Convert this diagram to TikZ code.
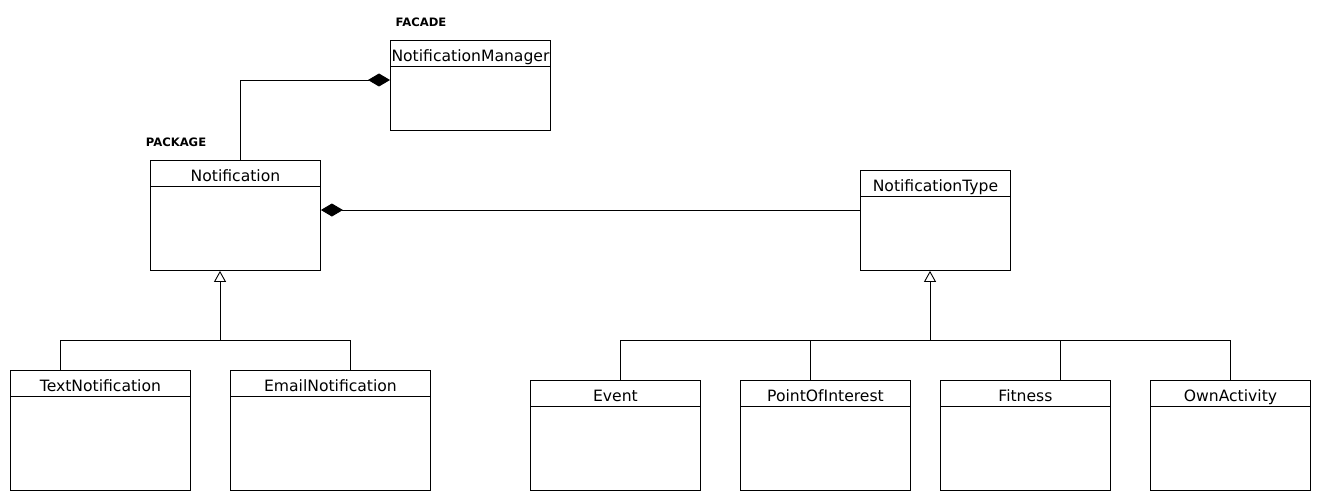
\documentclass[tikz,border=0pt]{standalone}
\usepackage{fontspec}
\setmainfont{DejaVu Sans}
\usetikzlibrary{arrows.meta,positioning}
\tikzset{
  classbox/.style={draw, line width=0.9pt, anchor=north west, inner sep=0pt},
  classtitle/.style={anchor=north, inner sep=0pt, minimum height=26pt,
    text height=17pt, text depth=1pt,
    font=\fontsize{15.6}{18}\selectfont},
  stereo/.style={font=\fontsize{11.6}{13}\selectfont\bfseries},
  compose/.style={line width=0.9pt, {Diamond[length=22pt,width=13pt]}-},
  inherit/.style={line width=0.9pt, -{Triangle[open,length=11pt,width=12pt]}},
  assoc/.style={line width=0.9pt}
}
\newcommand{\classhead}[2]{%
  \node[classtitle] (#1t) at (#1.north) {#2};
  \draw[assoc] (#1t.south -| #1.west) -- (#1t.south -| #1.east);}
\begin{document}
\begin{tikzpicture}[x=1pt,y=-1pt]
    \useasboundingbox (0,0) rectangle (1320,500);

    % labels
    \node[stereo] (facade) at (421,22) {FACADE};
    \node[stereo] (package) at (176,142) {PACKAGE};

    % classes
    \node[classbox, minimum width=160pt, minimum height=90pt] (mgr) at (390,40) {};
    \classhead{mgr}{NotificationManager}
    \node[classbox, minimum width=170pt, minimum height=110pt] (notif) at (150,160) {};
    \classhead{notif}{Notification}
    \node[classbox, minimum width=150pt, minimum height=100pt] (ntype) at (860,170) {};
    \classhead{ntype}{NotificationType}

    \node[classbox, minimum width=180pt, minimum height=120pt] (textn) at (10,370) {};
    \classhead{textn}{TextNotification}
    \node[classbox, minimum width=200pt, minimum height=120pt] (email) at (230,370) {};
    \classhead{email}{EmailNotification}

    \node[classbox, minimum width=170pt, minimum height=110pt] (event) at (530,380) {};
    \classhead{event}{Event}
    \node[classbox, minimum width=170pt, minimum height=110pt] (poi) at (740,380) {};
    \classhead{poi}{PointOfInterest}
    \node[classbox, minimum width=170pt, minimum height=110pt] (fit) at (940,380) {};
    \classhead{fit}{Fitness}
    \node[classbox, minimum width=160pt, minimum height=110pt] (own) at (1150,380) {};
    \classhead{own}{OwnActivity}

    % compositions
    \coordinate (mgrin) at (390,80);
    \draw[compose] (mgrin) -| (notif.north -| 240,0);
    \draw[compose] (notif.east |- 0,210) -- (ntype.west |- 0,210);

    % generalisations
    \coordinate (lbar) at (220,340);
    \coordinate (rbar) at (930,340);
    \draw[inherit] (lbar) -- (notif.south -| lbar);
    \draw[assoc] (lbar) -| (textn.north -| 60,0);
    \draw[assoc] (lbar) -| (email.north -| 350,0);

    \draw[inherit] (rbar) -- (ntype.south -| rbar);
    \draw[assoc] (rbar) -| (event.north -| 620,0);
    \draw[assoc] (rbar) -| (poi.north -| 810,0);
    \draw[assoc] (rbar) -| (fit.north -| 1060,0);
    \draw[assoc] (rbar) -| (own.north -| 1230,0);

\end{tikzpicture}
\end{document}
